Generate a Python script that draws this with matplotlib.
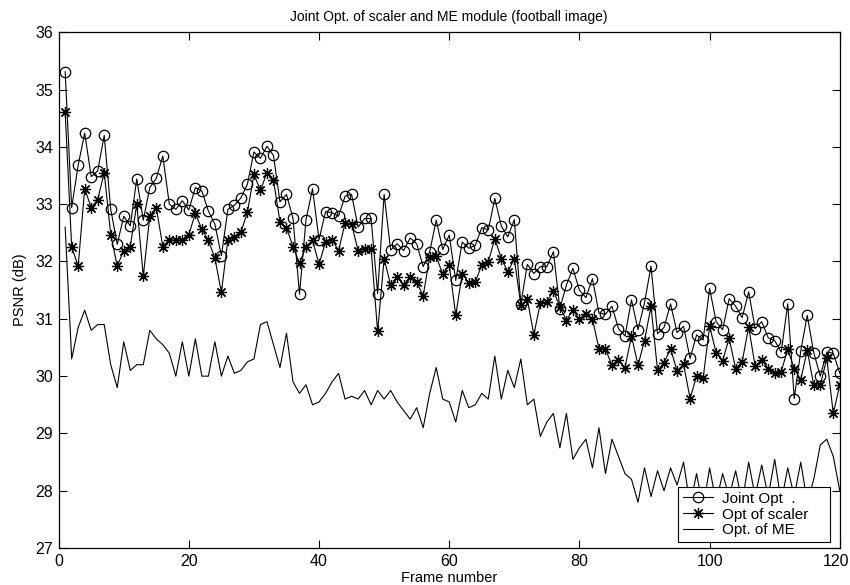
import matplotlib
matplotlib.use("Agg")
import matplotlib.pyplot as plt
import matplotlib.transforms as mtransforms
import numpy as np

plt.rcParams['font.family'] = ['Liberation Sans', 'DejaVu Sans']

frames = list(range(1, 121))

joint_opt = [
    35.31, 32.94, 33.68, 34.24, 33.48, 33.58, 34.20, 32.91, 32.30, 32.79,
    32.62, 33.44, 32.72, 33.29, 33.45, 33.84, 33.00, 32.91, 33.06, 32.90,
    33.29, 33.23, 32.88, 32.65, 32.10, 32.91, 32.98, 33.11, 33.35, 33.91,
    33.80, 34.01, 33.85, 33.04, 33.17, 32.75, 31.43, 32.73, 33.27, 32.38,
    32.87, 32.85, 32.79, 33.14, 33.17, 32.60, 32.75, 32.75, 31.44, 33.17,
    32.20, 32.31, 32.19, 32.41, 32.31, 31.91, 32.17, 32.72, 32.21, 32.46,
    31.67, 32.34, 32.23, 32.28, 32.59, 32.55, 33.10, 32.62, 32.43, 32.73,
    31.26, 31.95, 31.79, 31.91, 31.91, 32.17, 31.18, 31.59, 31.88, 31.50,
    31.37, 31.70, 31.10, 31.08, 31.22, 30.83, 30.70, 31.33, 30.81, 31.28,
    31.92, 30.74, 30.85, 31.26, 30.76, 30.87, 30.31, 30.72, 30.63, 31.53,
    30.95, 30.81, 31.35, 31.22, 31.02, 31.47, 30.83, 30.95, 30.67, 30.62,
    30.42, 31.26, 29.61, 30.44, 31.06, 30.41, 30.00, 30.42, 30.40, 30.05,
]

opt_scaler = [
    34.61, 32.25, 31.92, 33.27, 32.94, 33.08, 33.55, 32.47, 31.92, 32.19,
    32.26, 33.00, 31.74, 32.79, 32.94, 32.26, 32.38, 32.37, 32.38, 32.47,
    32.84, 32.56, 32.37, 32.06, 31.46, 32.38, 32.42, 32.51, 32.86, 33.52,
    33.24, 33.55, 33.42, 32.69, 32.59, 32.26, 31.97, 32.26, 32.37, 31.95,
    32.34, 32.38, 32.19, 32.67, 32.65, 32.19, 32.21, 32.22, 30.78, 32.05,
    31.59, 31.73, 31.59, 31.73, 31.64, 31.40, 32.08, 32.09, 31.78, 31.94,
    31.06, 31.79, 31.63, 31.64, 31.94, 31.99, 32.40, 32.05, 31.82, 32.05,
    31.24, 31.34, 30.72, 31.28, 31.29, 31.49, 31.21, 30.97, 31.16, 30.99,
    31.08, 31.00, 30.48, 30.47, 30.19, 30.28, 30.15, 30.70, 30.19, 30.62,
    31.22, 30.10, 30.23, 30.48, 30.09, 30.21, 29.61, 30.00, 29.96, 30.87,
    30.41, 30.27, 30.66, 30.13, 30.25, 30.86, 30.17, 30.29, 30.13, 30.06,
    30.08, 30.47, 30.13, 29.94, 30.45, 29.84, 29.84, 30.31, 29.35, 29.85,
]

opt_me = [
    32.60, 30.30, 30.85, 31.15, 30.80, 30.90, 30.90, 30.20, 29.80, 30.60,
    30.10, 30.20, 30.20, 30.80, 30.65, 30.55, 30.40, 30.00, 30.60, 30.00,
    30.65, 30.00, 30.00, 30.60, 30.00, 30.35, 30.05, 30.10, 30.25, 30.30,
    30.90, 30.95, 30.55, 30.15, 30.75, 29.90, 29.70, 29.85, 29.50, 29.55,
    29.70, 29.90, 30.05, 29.60, 29.65, 29.60, 29.75, 29.50, 29.75, 29.60,
    29.75, 29.55, 29.40, 29.25, 29.45, 29.10, 29.70, 30.15, 29.60, 29.55,
    29.20, 29.75, 29.45, 29.50, 29.70, 29.60, 30.35, 29.60, 30.10, 29.80,
    30.30, 29.50, 29.60, 28.95, 29.20, 29.35, 28.75, 29.35, 28.55, 28.75,
    28.90, 28.40, 29.10, 28.30, 28.90, 28.60, 28.30, 28.20, 27.80, 28.40,
    27.90, 28.35, 28.00, 28.40, 28.10, 28.50, 27.75, 28.30, 27.70, 28.40,
    27.80, 28.30, 27.90, 28.35, 27.80, 28.50, 27.90, 28.45, 27.90, 28.55,
    27.80, 28.40, 27.90, 28.50, 27.80, 28.20, 28.80, 28.90, 28.60, 28.00,
]

x_ticks = [0, 20, 40, 60, 80, 100, 120]
y_ticks = [27, 28, 29, 30, 31, 32, 33, 34, 35, 36]

fig = plt.figure(figsize=(8.5, 5.85), dpi=100)
ax = fig.add_axes([0.069, 0.063, 0.919, 0.882])

ax.plot(frames, joint_opt, color='black', lw=0.8, marker='o', ms=7.5,
        mfc='none', mec='black', mew=0.9, label='Joint Opt  .')
ax.plot(frames, opt_scaler, color='black', lw=0.8, marker=(8, 2, 0), ms=8,
        mec='black', mfc='black', mew=0.9, label='Opt of scaler')
ax.plot(frames, opt_me, color='black', lw=0.8, label='Opt. of ME')

ax.set_xlim(0, 120)
ax.set_ylim(27, 36)
ax.set_xticks(x_ticks)
ax.set_yticks(y_ticks)
ax.tick_params(direction='in', length=6, width=0.8, labelsize=11.5,
               top=True, right=True, pad=4)
for s in ax.spines.values():
    s.set_linewidth(0.9)

# nudge the last x tick label slightly left so it stays inside the figure
last = ax.get_xticklabels()[-1]
last.set_transform(last.get_transform() +
                   mtransforms.ScaledTranslation(-4 / 100, 0, fig.dpi_scale_trans))

ax.set_title('Joint Opt. of scaler and ME module (football image)', fontsize=10, pad=8)
ax.set_xlabel('Frame number', fontsize=10.5, labelpad=2)
ax.set_ylabel('PSNR (dB)', fontsize=10.5, labelpad=6)

leg = ax.legend(loc='lower right', bbox_to_anchor=(0.988, 0.012), fontsize=11,
                frameon=True, fancybox=False, edgecolor='black', framealpha=1,
                borderpad=0.3, labelspacing=0.12, handlelength=2.0,
                handletextpad=0.6, borderaxespad=0)
leg.get_frame().set_linewidth(0.8)
for t in leg.get_texts():
    t.set_text(t.get_text() + '    ')

fig.savefig('out.png', dpi=100)
